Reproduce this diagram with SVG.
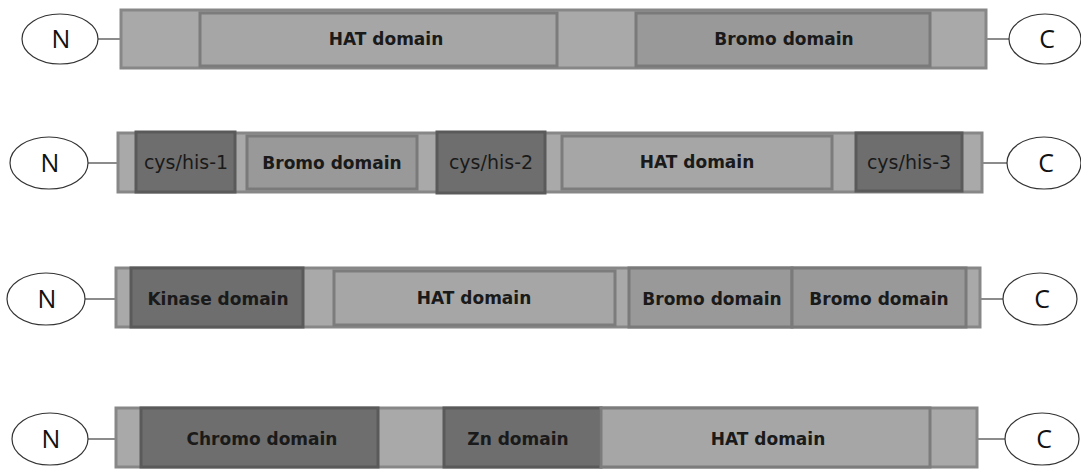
<svg xmlns="http://www.w3.org/2000/svg" width="1081" height="469" viewBox="0 0 1081 469">
<style>
.bar{fill:#a9a9a9;stroke:#878787;stroke-width:3}
.hat{fill:#a6a6a6;stroke:#7c7c7c;stroke-width:3}
.bromo{fill:#999999;stroke:#7a7a7a;stroke-width:3}
.dark{fill:#6e6e6e;stroke:#5a5a5a;stroke-width:3}
.term{fill:#ffffff;stroke:#333333;stroke-width:1.2}
.conn{stroke:#666666;stroke-width:1.5;fill:none}
.lbl{font-family:"DejaVu Sans",sans-serif;font-weight:bold;font-size:17px;fill:#1a1a1a;text-anchor:middle}
.lbr{font-family:"DejaVu Sans",sans-serif;font-size:19px;fill:#1a1a1a;text-anchor:middle}
.tl{font-family:"Open Sans","Liberation Sans",sans-serif;font-size:25px;fill:#111111;text-anchor:middle}
</style>
<rect width="1081" height="469" fill="#ffffff"/>
<g id="connectors">
<line class="conn" x1="98" y1="39" x2="121" y2="39"/>
<line class="conn" x1="986" y1="39" x2="1009" y2="39"/>
<line class="conn" x1="88" y1="163" x2="118" y2="163"/>
<line class="conn" x1="982" y1="163" x2="1007" y2="163"/>
<line class="conn" x1="85" y1="299" x2="116" y2="299"/>
<line class="conn" x1="980" y1="299" x2="1003" y2="299"/>
<line class="conn" x1="88" y1="439" x2="116" y2="439"/>
<line class="conn" x1="977" y1="439" x2="1005" y2="439"/>
</g>
<!-- Row 1 -->
<g id="row1-bar"><rect class="bar" x="121" y="10" width="865" height="58"/></g>
<g id="row1-hat"><rect class="hat" x="200" y="13" width="357" height="53"/><text class="lbl" x="386" y="45">HAT domain</text></g>
<g id="row1-bromo"><rect class="bromo" x="636" y="13" width="294" height="53"/><text class="lbl" x="784" y="45">Bromo domain</text></g>
<g id="row1-N"><ellipse class="term" cx="60" cy="39" rx="38" ry="25"/><text class="tl" x="61" y="48">N</text></g>
<g id="row1-C"><ellipse class="term" cx="1045" cy="39" rx="36" ry="25"/><text class="tl" x="1047" y="48">C</text></g>
<!-- Row 2 -->
<g id="row2-bar"><rect class="bar" x="118" y="133" width="864" height="59"/></g>
<g id="row2-cys1"><rect class="dark" x="136" y="132" width="99" height="60"/><text class="lbr" x="186" y="169">cys/his-1</text></g>
<g id="row2-bromo"><rect class="bromo" x="247" y="136" width="170" height="53"/><text class="lbl" x="332" y="169">Bromo domain</text></g>
<g id="row2-cys2"><rect class="dark" x="437" y="132" width="108" height="61"/><text class="lbr" x="491" y="169">cys/his-2</text></g>
<g id="row2-hat"><rect class="hat" x="562" y="136" width="270" height="53"/><text class="lbl" x="697" y="168">HAT domain</text></g>
<g id="row2-cys3"><rect class="dark" x="856" y="133" width="106" height="58"/><text class="lbr" x="909" y="169">cys/his-3</text></g>
<g id="row2-N"><ellipse class="term" cx="49" cy="163" rx="39" ry="26"/><text class="tl" x="50" y="172">N</text></g>
<g id="row2-C"><ellipse class="term" cx="1044" cy="163" rx="37" ry="26"/><text class="tl" x="1046" y="172">C</text></g>
<!-- Row 3 -->
<g id="row3-bar"><rect class="bar" x="116" y="268" width="864" height="59"/></g>
<g id="row3-kinase"><rect class="dark" x="131" y="268" width="172" height="59"/><text class="lbl" x="218" y="305">Kinase domain</text></g>
<g id="row3-hat"><rect class="hat" x="334" y="271" width="281" height="54"/><text class="lbl" x="474" y="304">HAT domain</text></g>
<g id="row3-bromo1"><rect class="bromo" x="629" y="268" width="163" height="59"/><text class="lbl" x="712" y="305">Bromo domain</text></g>
<g id="row3-bromo2"><rect class="bromo" x="792" y="268" width="174" height="59"/><text class="lbl" x="879" y="305">Bromo domain</text></g>
<g id="row3-N"><ellipse class="term" cx="46" cy="299" rx="39" ry="26"/><text class="tl" x="47" y="308">N</text></g>
<g id="row3-C"><ellipse class="term" cx="1040" cy="299" rx="37" ry="26"/><text class="tl" x="1042" y="308">C</text></g>
<!-- Row 4 -->
<g id="row4-bar"><rect class="bar" x="116" y="408" width="861" height="59"/></g>
<g id="row4-chromo"><rect class="dark" x="141" y="408" width="237" height="59"/><text class="lbl" x="262" y="445">Chromo domain</text></g>
<g id="row4-zn"><rect class="dark" x="444" y="408" width="157" height="59"/><text class="lbl" x="518" y="445">Zn domain</text></g>
<g id="row4-hat"><rect class="hat" x="601" y="408" width="329" height="59"/><text class="lbl" x="768" y="445">HAT domain</text></g>
<g id="row4-N"><ellipse class="term" cx="50" cy="439" rx="38" ry="26"/><text class="tl" x="51" y="448">N</text></g>
<g id="row4-C"><ellipse class="term" cx="1042" cy="439" rx="37" ry="26"/><text class="tl" x="1044" y="448">C</text></g>
</svg>
